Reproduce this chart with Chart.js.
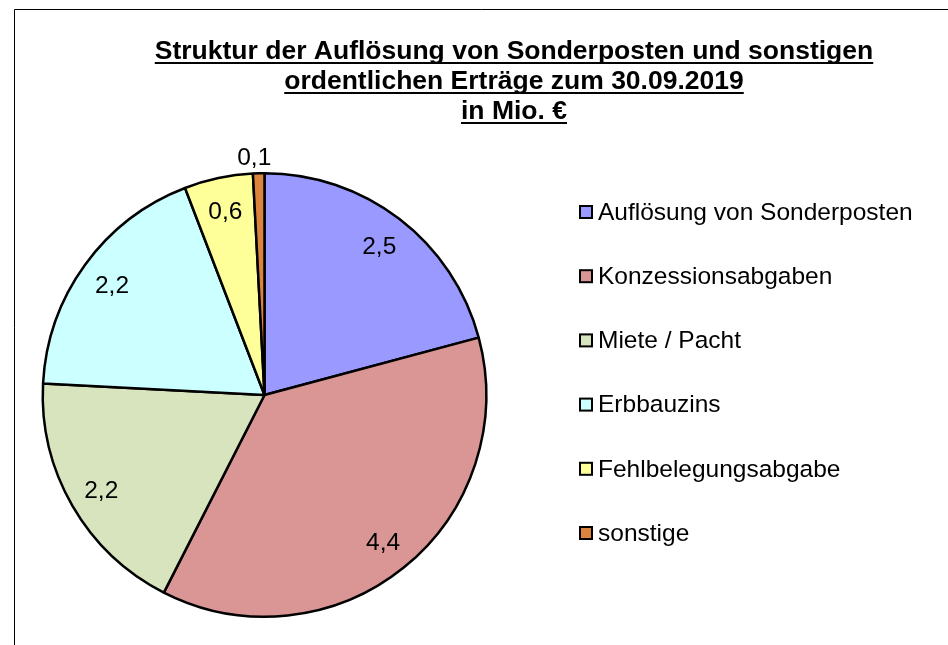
<!DOCTYPE html>
<html>
<head>
<meta charset="utf-8">
<script src="https://cdn.jsdelivr.net/npm/chart.js@4/dist/chart.umd.min.js"></script>
<style>
  html, body { margin: 0; padding: 0; background: #fff; }
  #wrap { width: 948px; height: 645px; position: relative; }
</style>
</head>
<body>
<div id="wrap"><canvas id="pieChart" width="948" height="645"></canvas></div>
<script>
// data
const categories = ["Auflösung von Sonderposten", "Konzessionsabgaben", "Miete / Pacht", "Erbbauzins", "Fehlbelegungsabgabe", "sonstige"];
const values = [2.5, 4.4, 2.2, 2.2, 0.6, 0.1];
const valueLabels = ["2,5", "4,4", "2,2", "2,2", "0,6", "0,1"];
const colors = ["#9999FF", "#D99694", "#D7E4BD", "#CCFFFF", "#FFFF99", "#DB843D"];
const titleLines = ["Struktur der Auflösung von Sonderposten und sonstigen", "ordentlichen Erträge zum 30.09.2019", "in Mio. €"];

const FONT = "'Liberation Sans', Arial, sans-serif";

// frame, title, value labels and legend drawn on the canvas
const decorPlugin = {
    id: "decor",
    beforeDraw(chart) {
        const ctx = chart.ctx;
        ctx.save();
        ctx.fillStyle = "#fff";
        ctx.fillRect(0, 0, chart.width, chart.height);
        ctx.strokeStyle = "#000";
        ctx.lineWidth = 1;
        ctx.beginPath();
        ctx.moveTo(14.5, chart.height);
        ctx.lineTo(14.5, 9.5);
        ctx.lineTo(chart.width, 9.5);
        ctx.stroke();
        ctx.restore();
    },
    afterDraw(chart) {
        const ctx = chart.ctx;
        ctx.save();

        // title, bold + underlined
        ctx.font = "bold 26.5px " + FONT;
        ctx.fillStyle = "#000";
        ctx.textAlign = "center";
        ctx.textBaseline = "alphabetic";
        const cx = 514;
        titleLines.forEach((line, i) => {
            const y = 59 + i * 30;
            ctx.fillText(line, cx, y);
            const w = ctx.measureText(line).width;
            ctx.fillRect(cx - w / 2, y + 3, w, 2);
        });

        // value labels
        const meta = chart.getDatasetMeta(0);
        ctx.font = "24.5px " + FONT;
        ctx.textBaseline = "middle";
        meta.data.forEach((arc, i) => {
            const p = arc.getProps(["x", "y", "startAngle", "endAngle", "outerRadius"], true);
            const mid = (p.startAngle + p.endAngle) / 2;
            let r = p.outerRadius * 0.85;
            if (values[i] < 0.3) r = p.outerRadius + 17;
            ctx.fillText(valueLabels[i], p.x + Math.cos(mid) * r - (values[i] < 0.3 ? 4 : 0), p.y + Math.sin(mid) * r + 2);
        });

        // legend
        ctx.textAlign = "left";
        categories.forEach((name, i) => {
            const y = 212 + i * 64.2;
            ctx.fillStyle = colors[i];
            ctx.fillRect(580, y - 6, 12, 12);
            ctx.strokeStyle = "#000";
            ctx.lineWidth = 2;
            ctx.strokeRect(580, y - 6, 12, 12);
            ctx.fillStyle = "#000";
            ctx.fillText(name, 598, y + 1);
        });
        ctx.restore();
    }
};

new Chart(document.getElementById("pieChart"), {
    type: "pie",
    data: {
        labels: categories,
        datasets: [{
            data: values,
            backgroundColor: colors,
            borderColor: "#000",
            borderWidth: 2.5
        }]
    },
    options: {
        responsive: false,
        animation: false,
        layout: { padding: { left: 41.5, right: 460.5, top: 172, bottom: 27 } },
        plugins: {
            legend: { display: false },
            title: { display: false },
            tooltip: { enabled: false }
        }
    },
    plugins: [decorPlugin]
});
</script>
</body>
</html>
